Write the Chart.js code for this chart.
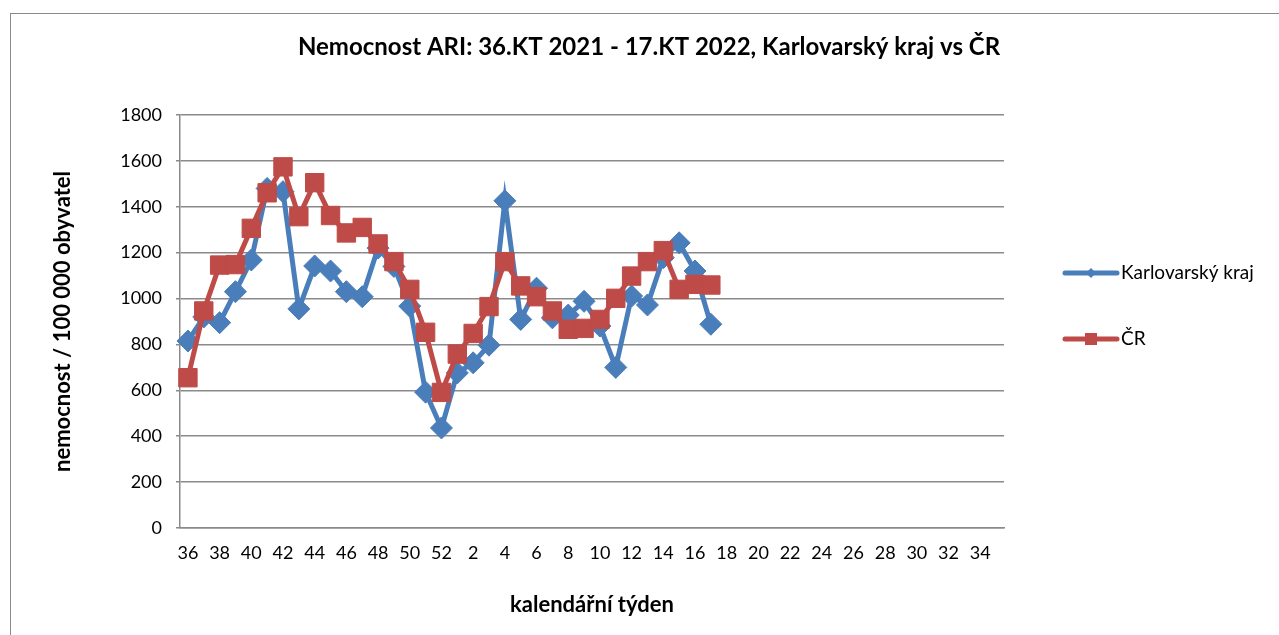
<!DOCTYPE html>
<html>
<head>
<meta charset="utf-8">
<script src="https://cdn.jsdelivr.net/npm/chart.js@4.4.1/dist/chart.umd.min.js"></script>
<style>
  html, body { margin: 0; padding: 0; background: #fff; }
  #wrap { width: 1279px; height: 635px; position: relative; }
</style>
</head>
<body>
<div id="wrap"><canvas id="myChart"></canvas></div>
<script>
// kalendářní týdny 36..52 (2021) a 1..35 (2022)
let weeks = ['36','37','38','39','40','41','42','43','44','45','46','47','48','49','50','51','52',
             '1','2','3','4','5','6','7','8','9','10','11','12','13','14','15','16','17','18',
             '19','20','21','22','23','24','25','26','27','28','29','30','31','32','33','34','35'];

let karlovarsky = [815, 920, 895, 1030, 1168, 1480, 1466, 955, 1142, 1120, 1030, 1008, 1220, 1140, 967, 592, 436,
                   676, 720, 797, 1426, 909, 1045, 916, 928, 988, 880, 700, 1011, 972, 1178, 1243, 1120, 888];

let cr = [655, 946, 1146, 1148, 1306, 1461, 1574, 1357, 1505, 1362, 1286, 1310, 1238, 1161, 1040, 853, 591,
          758, 848, 965, 1161, 1055, 1008, 946, 866, 870, 909, 1001, 1098, 1161, 1209, 1040, 1062, 1059];

let yTicks = [0, 200, 400, 600, 800, 1000, 1200, 1400, 1600, 1800];

const blue = '#4A7EBB',
      red = '#BE4B48',
      grid = '#8a8a8a',
      font = 'Lato'

// rámeček, nadpis a legenda
const frame = {
    id: 'frame',
    beforeDraw: function(chart){
        let ctx = chart.ctx;
        ctx.save();
        ctx.fillStyle = '#fff';
        ctx.fillRect(0, 0, chart.width, chart.height);
        ctx.strokeStyle = '#8a8a8a';
        ctx.lineWidth = 1;
        ctx.strokeRect(10.5, 13.5, 1400, 800);
        ctx.fillStyle = '#000';
        ctx.font = 'bold 24px ' + font;
        ctx.textAlign = 'center';
        ctx.textBaseline = 'middle';
        ctx.fillText('Nemocnost ARI: 36.KT 2021 - 17.KT 2022, Karlovarský kraj vs ČR', 649, 47);
        ctx.restore();
    },
    afterDraw: function(chart){
        let ctx = chart.ctx;
        let items = [
            {text: 'Karlovarský kraj', color: blue, y: 273, marker: 'diamond'},
            {text: 'ČR', color: red, y: 339, marker: 'square'}
        ];
        ctx.save();
        items.forEach(it => {
            ctx.strokeStyle = it.color;
            ctx.fillStyle = it.color;
            ctx.lineWidth = 5;
            ctx.lineCap = 'round';
            ctx.beginPath();
            ctx.moveTo(1065, it.y);
            ctx.lineTo(1117, it.y);
            ctx.stroke();
            ctx.beginPath();
            if(it.marker === 'diamond'){
                ctx.moveTo(1091, it.y - 5);
                ctx.lineTo(1096, it.y);
                ctx.lineTo(1091, it.y + 5);
                ctx.lineTo(1086, it.y);
                ctx.closePath();
            }else{
                ctx.rect(1085, it.y - 6, 12, 12);
            }
            ctx.fill();
            ctx.fillStyle = '#000';
            ctx.font = '19px ' + font;
            ctx.textBaseline = 'middle';
            ctx.textAlign = 'left';
            ctx.fillText(it.text, 1121, it.y);
        });
        ctx.restore();
    }
};

const ctx = document.getElementById('myChart').getContext('2d');

const myChart = new Chart(ctx, {
    type: 'line',
    data: {
        labels: weeks,
        datasets: [{
            label: 'Karlovarský kraj',
            data: karlovarsky,
            borderColor: blue,
            backgroundColor: blue,
            borderWidth: 5,
            pointStyle: 'rectRot',
            pointRadius: 11,
            pointHoverRadius: 11,
            pointBorderWidth: 1,
            tension: 0,
            fill: false,
            order: 2
        },{
            label: 'ČR',
            data: cr,
            borderColor: red,
            backgroundColor: red,
            borderWidth: 5,
            pointStyle: 'rect',
            pointRadius: 13,
            pointHoverRadius: 13,
            pointBorderWidth: 1,
            tension: 0,
            fill: false,
            order: 1
        }]
    },
    options: {
        responsive: true,
        maintainAspectRatio: false,
        animation: false,
        events: [],
        layout: {
            padding: {top: 115, left: 14, right: 275, bottom: 2}
        },
        plugins: {
            legend: {display: false},
            tooltip: {enabled: false},
            title: {display: false}
        },
        scales: {
            x: {
                offset: true,
                grid: {display: false, drawTicks: false},
                border: {color: grid, width: 1.5},
                ticks: {
                    autoSkip: false,
                    maxRotation: 0,
                    padding: 14,
                    color: '#000',
                    font: {family: font, size: 18},
                    callback: function(v, i){ return i % 2 === 0 ? weeks[i] : ''; }
                },
                title: {
                    display: true,
                    text: 'kalendářní týden',
                    color: '#000',
                    font: {family: font, size: 22, weight: 'bold'},
                    padding: {top: 14, bottom: 15}
                }
            },
            y: {
                min: 0,
                max: 1800,
                afterBuildTicks: function(axis){ axis.ticks = yTicks.map(v => ({value: v})); },
                afterFit: function(axis){ axis.width = 166; },
                grid: {color: grid, lineWidth: 1.5, drawTicks: true, tickLength: 4},
                border: {color: grid, width: 1.5},
                ticks: {
                    padding: 14,
                    color: '#000',
                    font: {family: font, size: 18},
                    callback: function(v){ return String(v); }
                },
                title: {
                    display: true,
                    text: 'nemocnost / 100 000 obyvatel',
                    color: '#000',
                    font: {family: font, size: 22, weight: 'bold'},
                    padding: {top: 36, bottom: 10}
                }
            }
        }
    },
    plugins: [frame]
});
</script>
</body>
</html>
